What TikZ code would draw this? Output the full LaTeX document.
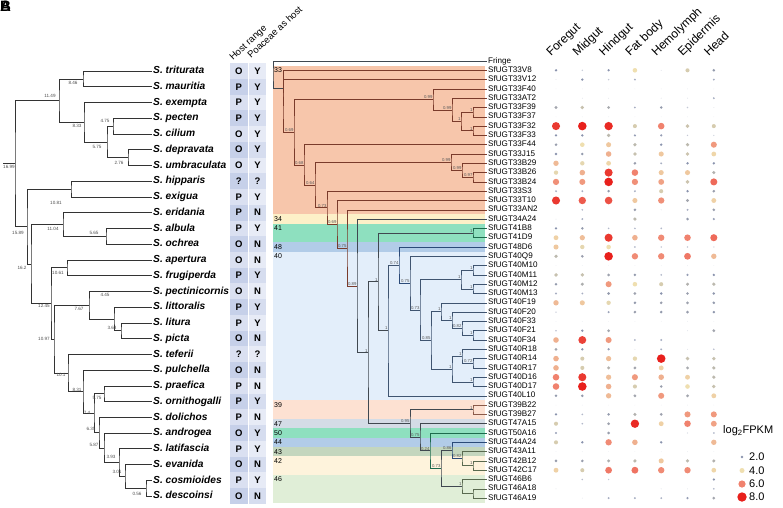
\documentclass[tikz,border=0pt]{standalone}
\usepackage{fontspec}
\setmainfont{Liberation Sans}
\usetikzlibrary{calc}
\definecolor{b33}{HTML}{F7C6AB}
\definecolor{b34}{HTML}{FDF0C8}
\definecolor{b41}{HTML}{8EE0BF}
\definecolor{b48}{HTML}{B2CCE8}
\definecolor{b40}{HTML}{E3EEFA}
\definecolor{b39}{HTML}{FDE1D2}
\definecolor{b47}{HTML}{D4DCE6}
\definecolor{b43}{HTML}{C4D6BE}
\definecolor{b42}{HTML}{FEF3DC}
\definecolor{b46}{HTML}{E0EED7}
\definecolor{hA1}{HTML}{DAE0F1}
\definecolor{hA2}{HTML}{C6D0E9}
\definecolor{hB1}{HTML}{E7EBF6}
\definecolor{hB2}{HTML}{D6DDEF}
\definecolor{cB2}{HTML}{8A93AD}
\definecolor{cB4}{HTML}{EFDFB0}
\definecolor{cB6}{HTML}{F0826E}
\definecolor{cB8}{HTML}{E8201C}
\definecolor{l33}{HTML}{7A3B2B}
\definecolor{l41}{HTML}{1D6B4D}
\definecolor{l48}{HTML}{2B4A78}
\definecolor{l40}{HTML}{3F5470}
\definecolor{l39}{HTML}{8A5A4A}
\definecolor{l43}{HTML}{5A6A50}
\definecolor{ldk}{HTML}{404850}

\newcommand\gn[6]{%
  \coordinate (tmpm) at ($(#4)!.5!(#5)$);
  \coordinate (#2) at (#3,0 |- tmpm);
  \draw[#1] (#4) -| (#2) |- (#5);
  \node[glab] (lab#2) at (#2) {#6};}
\newcommand\sn[4]{%
  \coordinate (tmpm) at ($(#3)!.5!(#4)$);
  \coordinate (#1) at (#2,0 |- tmpm);
  \draw[stree] (#3) -| (#1) |- (#4);}
\newcommand\bubcol[1]{%
  \ifdim #1pt<2pt \pgfmathsetmacro\pp{#1*50}\colorlet{bc}{cB2!\pp!white}%
  \else\ifdim #1pt<4pt \pgfmathsetmacro\pp{(#1-2)*50}\colorlet{bc}{cB4!\pp!cB2}%
  \else\ifdim #1pt<6pt \pgfmathsetmacro\pp{(#1-4)*50}\colorlet{bc}{cB6!\pp!cB4}%
  \else \pgfmathsetmacro\pp{min((#1-6)*50,100)}\colorlet{bc}{cB8!\pp!cB6}%
  \fi\fi\fi}
\newcommand\bubrow[2]{%
  \foreach \v [count=\c] in {#2} {%
    \ifdim \v pt>0.01pt
      \pgfmathsetmacro\bx{556+(\c-1)*26.3}%
      \pgfmathsetmacro\by{61+(#1-1)*9.3}%
      \pgfmathsetmacro\br{0.3+0.5*\v}%
      \bubcol{\v}%
      \fill[bc] (\bx,\by) circle[radius=\br];
    \fi}}

\begin{document}
\begin{tikzpicture}[x=1pt,y=-1pt,
  stree/.style={draw=black!80, line width=0.55pt},
  glab/.style={anchor=south east, inner sep=0.4pt, font=\fontsize{4.3}{4.5}\selectfont, text=black!65},
  slab/.style={inner sep=0pt, font=\fontsize{4.6}{5}\selectfont, text=black!70},
  sp/.style={anchor=west, inner sep=1.5pt, font=\fontsize{10.2}{11}\selectfont\bfseries\itshape, text height=7.5pt, text depth=2pt},
  gene/.style={anchor=west, inner sep=1.5pt, font=\fontsize{8.1}{9}\selectfont, text height=5.8pt, text depth=1.6pt},
  hl/.style={inner sep=0pt, font=\fontsize{9.5}{10}\selectfont\bfseries},
  band/.style={anchor=west, inner sep=0.5pt, font=\fontsize{7}{8}\selectfont},
  colhead/.style={anchor=base west, rotate=44, inner sep=0pt, font=\fontsize{12}{13}\selectfont},
  hhead/.style={anchor=base west, rotate=43, inner sep=0pt, font=\fontsize{9.5}{10}\selectfont},
  g33/.style={draw=l33, line width=0.6pt},
  g41/.style={draw=l41, line width=0.6pt},
  g48/.style={draw=l48, line width=0.6pt},
  g40/.style={draw=l40, line width=0.6pt},
  g39/.style={draw=l39, line width=0.6pt},
  g43/.style={draw=l43, line width=0.6pt},
  gdk/.style={draw=ldk, line width=0.6pt}]
\useasboundingbox (0,0) rectangle (783,507);

% panel letters (overprinted in the reference)
\node[anchor=north west, inner sep=0pt, font=\fontsize{15}{15}\selectfont\bfseries] (pA) at (0,0.5) {A};
\node[anchor=north west, inner sep=0pt, font=\fontsize{15}{15}\selectfont\bfseries] (pB) at (0,0.5) {B};

% host columns background and letters
\foreach \a/\b [count=\i] in {O/Y,P/Y,P/Y,P/Y,O/Y,O/Y,O/Y,?/?,P/Y,P/N,P/Y,O/N,O/N,P/Y,O/N,P/Y,P/Y,O/N,?/?,O/N,P/N,P/Y,P/N,O/Y,P/Y,O/N,P/Y,O/N} {
  \pgfmathsetmacro\yy{71+(\i-1)*15.74}
  \pgfmathtruncatemacro\odd{mod(\i,2)}
  \ifnum\odd=1
    \fill[hA1] (229.5,\yy-7.87) rectangle (248,\yy+7.87);
    \fill[hB1] (249,\yy-7.87) rectangle (266,\yy+7.87);
  \else
    \fill[hA2] (229.5,\yy-7.87) rectangle (248,\yy+7.87);
    \fill[hB2] (249,\yy-7.87) rectangle (266,\yy+7.87);
  \fi
  \node[hl] (ha\i) at (238.8,\yy) {\a};
  \node[hl] (hb\i) at (257.5,\yy) {\b};
}
\node[hhead] (hh1) at (233,61) {Host range};
\node[hhead] (hh2) at (251,59) {Poaceae as host};

% species names
\foreach \nm [count=\i] in {triturata,mauritia,exempta,pecten,cilium,depravata,umbraculata,hipparis,exigua,eridania,albula,ochrea,apertura,frugiperda,pectinicornis,littoralis,litura,picta,teferii,pulchella,praefica,ornithogalli,dolichos,androgea,latifascia,evanida,cosmioides,descoinsi}
  \node[sp] (s\i) at (151.5,{71+(\i-1)*15.74}) {S. \nm};

% species tree
\sn{T846}{83}{s1.west}{s2.west}
\sn{T475}{113}{s4.west}{s5.west}
\sn{T276}{128}{s6.west}{s7.west}
\sn{T575a}{107}{T475}{T276}
\sn{T833}{84}{s3.west}{T575a}
\sn{T1149}{59}{T846}{T833}
\sn{T1081}{71}{s8.west}{s9.west}
\sn{T565}{106}{s11.west}{s12.west}
\sn{T1104}{63}{s10.west}{T565}
\sn{T1061}{67}{s13.west}{s14.west}
\sn{T363}{121}{s17.west}{s18.west}
\sn{T445}{114}{s16.west}{T363}
\sn{T767}{89}{s15.west}{T445}
\sn{T056}{146}{s27.west}{s28.west}
\sn{T301}{125}{s26.west}{T056}
\sn{T393}{119}{s25.west}{T301}
\sn{T587}{104}{s24.west}{T393}
\sn{T635}{99}{s23.west}{T587}
\sn{T575b}{104}{s21.west}{s22.west}
\sn{T74}{94}{T575b}{T635}
\sn{T831}{83}{s20.west}{T74}
\sn{T101}{68}{s19.west}{T831}
\sn{T1097}{54}{T767}{T101}
\sn{T1245}{51}{T1061}{T1097}
\sn{T162}{31}{T1104}{T1245}
\sn{T1589}{27}{T1081}{T162}
\sn{Troot}{15}{T1149}{T1589}
\coordinate (rootend) at (3,0 |- Troot);
\draw[stree] (Troot) -- (rootend);
\foreach \lx/\ly/\t [count=\k] in {73/83/8.46,50/96/11.49,77/126/8.33,105/121/4.75,97/147/5.75,119/163/2.76,9/167/16.99,56/203/10.81,53/229/11.04,18/233/15.89,94/233/5.65,22/268/16.2,58/273/10.61,44/306/12.45,79/309/7.67,105/295/4.45,112/328/3.63,44/339/10.97,61/375/10.1,77/390/8.31,97/398/5.75,87/413/7.4,91/429/6.35,94/445/5.87,111/457/3.93,117/472/3.01,137/494/0.56}
  \node[slab] (sl\k) at (\lx,\ly) {\t};

% gene tree bands
\fill[b33] (273,65.65) rectangle (485,214.45);
\fill[b34] (273,214.45) rectangle (485,223.75);
\fill[b41] (273,223.75) rectangle (485,242.35);
\fill[b48] (273,242.35) rectangle (485,251.65);
\fill[b40] (273,251.65) rectangle (485,400.45);
\fill[b39] (273,400.45) rectangle (485,419.05);
\fill[b47] (273,419.05) rectangle (485,428.35);
\fill[b41] (273,428.35) rectangle (485,437.65);
\fill[b48] (273,437.65) rectangle (485,446.95);
\fill[b43] (273,446.95) rectangle (485,456.25);
\fill[b42] (273,456.25) rectangle (485,474.85);
\fill[b46] (273,474.85) rectangle (485,502.75);
\foreach \t/\r in {33/2,34/18,41/19,48/21,40/22,39/38,47/40,50/41,44/42,43/43,42/44,46/46}
  \node[band] (bl\t) at (273.5,{61+(\r-1)*9.3}) {\t};

% gene names
\foreach \t [count=\i] in {Fringe,SfUGT33V8,SfUGT33V12,SfUGT33F40,SfUGT33AT2,SfUGT33F39,SfUGT33F37,SfUGT33F32,SfUGT33F33,SfUGT33F44,SfUGT33J15,SfUGT33B29,SfUGT33B26,SfUGT33B24,SfUGT33S3,SfUGT33T10,SfUGT33AN2,SfUGT34A24,SfUGT41B8,SfUGT41D9,SfUGT48D6,SfUGT40Q9,SfUGT40M10,SfUGT40M11,SfUGT40M12,SfUGT40M13,SfUGT40F19,SfUGT40F20,SfUGT40F33,SfUGT40F21,SfUGT40F34,SfUGT40R18,SfUGT40R14,SfUGT40R17,SfUGT40D16,SfUGT40D17,SfUGT40L10,SfUGT39B22,SfUGT39B27,SfUGT47A15,SfUGT50A16,SfUGT44A24,SfUGT43A11,SfUGT42B12,SfUGT42C17,SfUGT46B6,SfUGT46A18,SfUGT46A19}
  \node[gene] (g\i) at (486.5,{61+(\i-1)*9.3}) {\t};

% gene tree
\gn{g33}{N473a}{473}{g6.west}{g7.west}{1}
\gn{g33}{N473b}{473}{g8.west}{g9.west}{1}
\gn{g33}{N461}{461}{N473a}{N473b}{1}
\gn{g33}{N452}{452}{g5.west}{N461}{0.99}
\gn{g33}{N433}{433}{g4.west}{N452}{0.99}
\gn{g33}{N473c}{473}{g13.west}{g14.west}{0.97}
\gn{g33}{N462}{462}{g12.west}{N473c}{0.99}
\gn{g33}{N451}{451}{g11.west}{N462}{0.99}
\gn{g40}{N473e}{473}{g23.west}{g24.west}{1}
\gn{g40}{N473f}{473}{g25.west}{g26.west}{1}
\gn{g40}{N461b}{461}{N473e}{N473f}{1}
\gn{g40}{N473g}{473}{g30.west}{g31.west}{1}
\gn{g40}{N462f}{462}{g29.west}{N473g}{0.82}
\gn{g40}{N452f}{452}{g28.west}{N462f}{1}
\gn{g40}{N441}{441}{g27.west}{N452f}{1}
\gn{g40}{N473i}{473}{g33.west}{g34.west}{0.72}
\gn{g40}{N462r}{462}{g32.west}{N473i}{1}
\gn{g40}{N473h}{473}{g35.west}{g36.west}{1}
\gn{g40}{N452r}{452}{N462r}{N473h}{1}
\gn{g40}{N431}{431}{N441}{N452r}{0.85}
\gn{g40}{N420}{420}{N461b}{N431}{0.73}
\gn{g40}{N410}{410}{g22.west}{N420}{0.75}
\gn{g48}{N399}{399}{g21.west}{N410}{0.74}
\gn{g40}{N388}{388}{N399}{g37.west}{1}
\gn{g41}{N473d}{473}{g19.west}{g20.west}{1}
\gn{gdk}{N378}{378}{N473d}{N388}{1}
\gn{g39}{N473j}{473}{g38.west}{g39.west}{1}
\gn{g43}{N473l}{473}{g47.west}{g48.west}{}
\gn{g43}{N462c}{462}{g46.west}{N473l}{1}
\gn{g43}{N473k}{473}{g44.west}{g45.west}{1}
\gn{g43}{N462d}{462}{g43.west}{N473k}{0.82}
\gn{g48}{N452b}{452}{g42.west}{N462d}{0.86}
\gn{gdk}{N441b}{441}{N452b}{N462c}{0.73}
\gn{g41}{N430b}{430}{g41.west}{N441b}{0.24}
\gn{gdk}{N420b}{420}{g40.west}{N430b}{0.75}
\gn{gdk}{N410b}{410}{N473j}{N420b}{0.95}
\gn{gdk}{N368}{368}{N378}{N410b}{1}
\gn{gdk}{N357}{357}{g18.west}{N368}{0.89}
\gn{g33}{N347}{347}{g17.west}{N357}{0.75}
\gn{g33}{N337}{337}{g16.west}{N347}{0.69}
\gn{g33}{N327}{327}{g15.west}{N337}{0.73}
\gn{g33}{N315}{315}{N451}{N327}{0.64}
\gn{g33}{N304}{304}{g10.west}{N315}{0.68}
\gn{g33}{N294}{294}{N433}{N304}{0.69}
\gn{g33}{Nb}{283}{g3.west}{N294}{}
\gn{g33}{Na}{283}{g2.west}{Nb}{}
\gn{gdk}{R}{273}{g1.west}{Na}{}

% column headers
\foreach \t [count=\i] in {Foregut,Midgut,Hindgut,Fat body,Hemolymph,Epidermis,Head}
  \node[colhead] (ch\i) at ({551+(\i-1)*26.3},57) {\t};

% bubbles
\bubrow{2}{2,1,2,4,0.5,3.5,2.2}
\bubrow{3}{0.5,2,1,1.5,0,0,1.5}
\bubrow{4}{0.3,0.3,0.3,0.3,0.3,0.3,0.3}
\bubrow{5}{0,0.5,0.5,0,0.5,0.5,1.5}
\bubrow{6}{2.5,3.2,2.6,1.5,2.2,1,0.5}
\bubrow{7}{0.3,0.3,0.3,0.3,0.3,0.3,0.3}
\bubrow{8}{7.5,8,7.8,3.5,6,3.3,3.5}
\bubrow{9}{2,2,3,1.8,1.8,1,0.8}
\bubrow{10}{2.3,4,4.5,3,2,3,5.5}
\bubrow{11}{2,2.2,5,3.2,4.5,3.3,4.2}
\bubrow{12}{4.8,3.8,4.2,2.3,1.5,2,2}
\bubrow{13}{3.8,5,7.5,6,4.5,4.5,2.8}
\bubrow{14}{5.7,5.5,8,5.7,5.3,3.3,6.5}
\bubrow{15}{1.5,1.5,2.2,1.5,3.5,2,2.3}
\bubrow{16}{7.5,6.8,7,4.5,5.7,2.5,4.3}
\bubrow{17}{0,1.3,0,2.3,0.5,1.5,2.3}
\bubrow{18}{0.5,1.5,0,3,0,2.2,1.8}
\bubrow{19}{2,2.2,1.3,1.3,1.3,0,0}
\bubrow{20}{4.3,4.7,7.5,5,5.8,6,6.5}
\bubrow{21}{4.5,3.8,4,1.3,1,1,0.8}
\bubrow{22}{3,2.3,8,5.8,5.8,6.2,4.8}
\bubrow{23}{0.3,0.3,0.3,0.3,0.3,0.3,0.3}
\bubrow{24}{3.2,3.2,2.4,2.2,1.3,1.8,2}
\bubrow{25}{2.2,2.7,5.5,4,3.5,2.8,3}
\bubrow{26}{1.5,1.5,2.2,2.4,2,2.3,2.1}
\bubrow{27}{4.8,4.5,3.8,2.2,2.3,2.4,2.2}
\bubrow{28}{1,0,1.7,2.3,2.2,2.3,2.1}
\bubrow{29}{0.3,0.3,0.3,0.3,0.3,0.3,0.3}
\bubrow{30}{1.2,2,2.5,0,0,0.5,2.5}
\bubrow{31}{5,7.3,5.5,1.5,1.5,0,0}
\bubrow{32}{2.5,2,1.8,0.5,1.5,0.5,1.2}
\bubrow{33}{5,3.5,4.7,3.8,8,3.2,3.2}
\bubrow{34}{5,3.5,2.8,2.5,4.3,2.6,3}
\bubrow{35}{6,7.5,4.7,5.5,5,4.3,3}
\bubrow{36}{6,8,5,3.5,2.3,4,3.2}
\bubrow{37}{2.2,2.2,4.8,2.5,5.5,2.5,4.3}
\bubrow{38}{0.3,0.3,0.3,0.3,0.3,0.3,0.3}
\bubrow{39}{2,1.3,2.2,2.8,2.4,5.5,5.5}
\bubrow{40}{3.5,1.3,2.4,7.8,4.3,6,5.3}
\bubrow{41}{1.8,0,2.3,0,0,0.8,1.3}
\bubrow{42}{3.5,2,5.8,5,2,0,4.8}
\bubrow{43}{0.3,0.3,0.3,0.3,0.3,0.3,0.3}
\bubrow{44}{2.3,2.3,2.7,3,4.5,3,2.8}
\bubrow{45}{4.3,3.5,6.2,6.3,5.8,5.8,4.2}
\bubrow{46}{0,1.2,1,0,0,0,2}
\bubrow{47}{0.5,0,0,0,0.5,0.5,1.3}
\bubrow{48}{0,0.5,1.5,1.5,1.5,1.8,2.5}

% legend
\node[anchor=west, inner sep=0pt, font=\fontsize{11}{12}\selectfont] (lgt) at (723,431) {log\textsubscript{2}FPKM};
\foreach \v/\yy/\t in {2/457/2.0,4/470.5/4.0,6/484/6.0,8/497/8.0} {
  \bubcol{\v}
  \fill[bc] (742,\yy) circle[radius={0.3+0.55*\v}];
  \node[anchor=west, inner sep=0pt, font=\fontsize{11}{12}\selectfont] (lg\v) at (749,\yy) {\t};
}
\end{tikzpicture}
\end{document}
